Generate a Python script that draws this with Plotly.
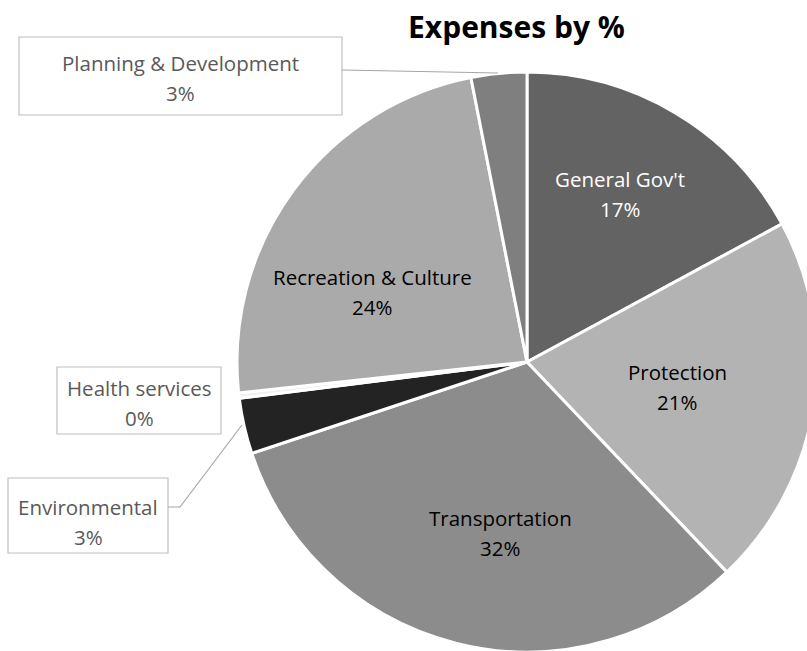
import plotly.graph_objects as go

# slice data, clockwise from 12 o'clock
categories = ["General Gov't", "Protection", "Transportation", "Environmental",
              "Health services", "Recreation & Culture", "Planning & Development"]
shares = [17.1, 20.8, 32.0, 3.1, 0.3, 23.6, 3.1]
colors = ["#636363", "#b3b3b3", "#8c8c8c", "#232323", "#f0f0f0", "#aaaaaa", "#7f7f7f"]

title_text = "Expenses by %"

# canvas a bit larger than the window so the pie is cut at the right edge like the original
W, H = 830, 660
FONT = "Open Sans"
LABEL_SIZE = 20.5


def px(x):
    return x / W


def py(y):
    return 1 - y / H


total = sum(shares)
pct_text = {c: f"{round(v / total * 100)}%" for c, v in zip(categories, shares)}

fig = go.Figure()
fig.add_trace(go.Pie(
    labels=categories,
    values=shares,
    sort=False,
    direction="clockwise",
    rotation=0,
    marker=dict(colors=colors, line=dict(color="white", width=3)),
    textinfo="none",
    showlegend=False,
    domain=dict(x=[px(237), px(817)], y=[py(652), py(72)]),
))

# label placement (pixel centre of first line, colour)
label_pos = {
    "General Gov't": (620, 179, "#ffffff"),
    "Protection": (677, 372, "#000000"),
    "Transportation": (500, 518, "#000000"),
    "Recreation & Culture": (372, 277, "#000000"),
    "Planning & Development": (180, 63, "#595959"),
    "Health services": (139, 388, "#595959"),
    "Environmental": (88, 507, "#595959"),
}
boxes = {
    "Planning & Development": (19, 37, 342, 115),
    "Health services": (57, 367, 221, 434),
    "Environmental": (8, 478, 168, 553),
}

shapes = []
for name, (x0, y0, x1, y1) in boxes.items():
    shapes.append(dict(type="rect", xref="paper", yref="paper",
                       x0=px(x0), x1=px(x1), y0=py(y1), y1=py(y0),
                       line=dict(color="#bfbfbf", width=1.2), fillcolor="white", layer="above"))

# leader lines
shapes.append(dict(type="line", xref="paper", yref="paper",
                   x0=px(342), y0=py(70), x1=px(498), y1=py(73),
                   line=dict(color="#a6a6a6", width=1.2)))
shapes.append(dict(type="path", xref="paper", yref="paper",
                   path=f"M {px(168)},{py(507)} L {px(180)},{py(507)} L {px(242)},{py(425)}",
                   line=dict(color="#a6a6a6", width=1.2)))

annotations = []
for name, (x, y, col) in label_pos.items():
    annotations.append(dict(x=px(x), y=py(y), xref="paper", yref="paper", text=name,
                            showarrow=False, xanchor="center", yanchor="middle",
                            font=dict(family=FONT, size=LABEL_SIZE, color=col)))
    annotations.append(dict(x=px(x), y=py(y + 30), xref="paper", yref="paper", text=pct_text[name],
                            showarrow=False, xanchor="center", yanchor="middle",
                            font=dict(family=FONT, size=LABEL_SIZE, color=col)))

annotations.append(dict(x=px(516), y=py(27), xref="paper", yref="paper", text=f"<b>{title_text}</b>",
                        showarrow=False, xanchor="center", yanchor="middle",
                        font=dict(family=FONT, size=30, color="#000000")))

fig.update_layout(
    width=W, height=H,
    margin=dict(l=0, r=0, t=0, b=0),
    paper_bgcolor="white",
    shapes=shapes,
    annotations=annotations,
)

fig.write_html("out.html", config={"displayModeBar": False}, post_script=(
    "document.body.style.margin='0';"
    "document.body.style.overflow='hidden';"
    "document.documentElement.style.overflow='hidden';"
))
